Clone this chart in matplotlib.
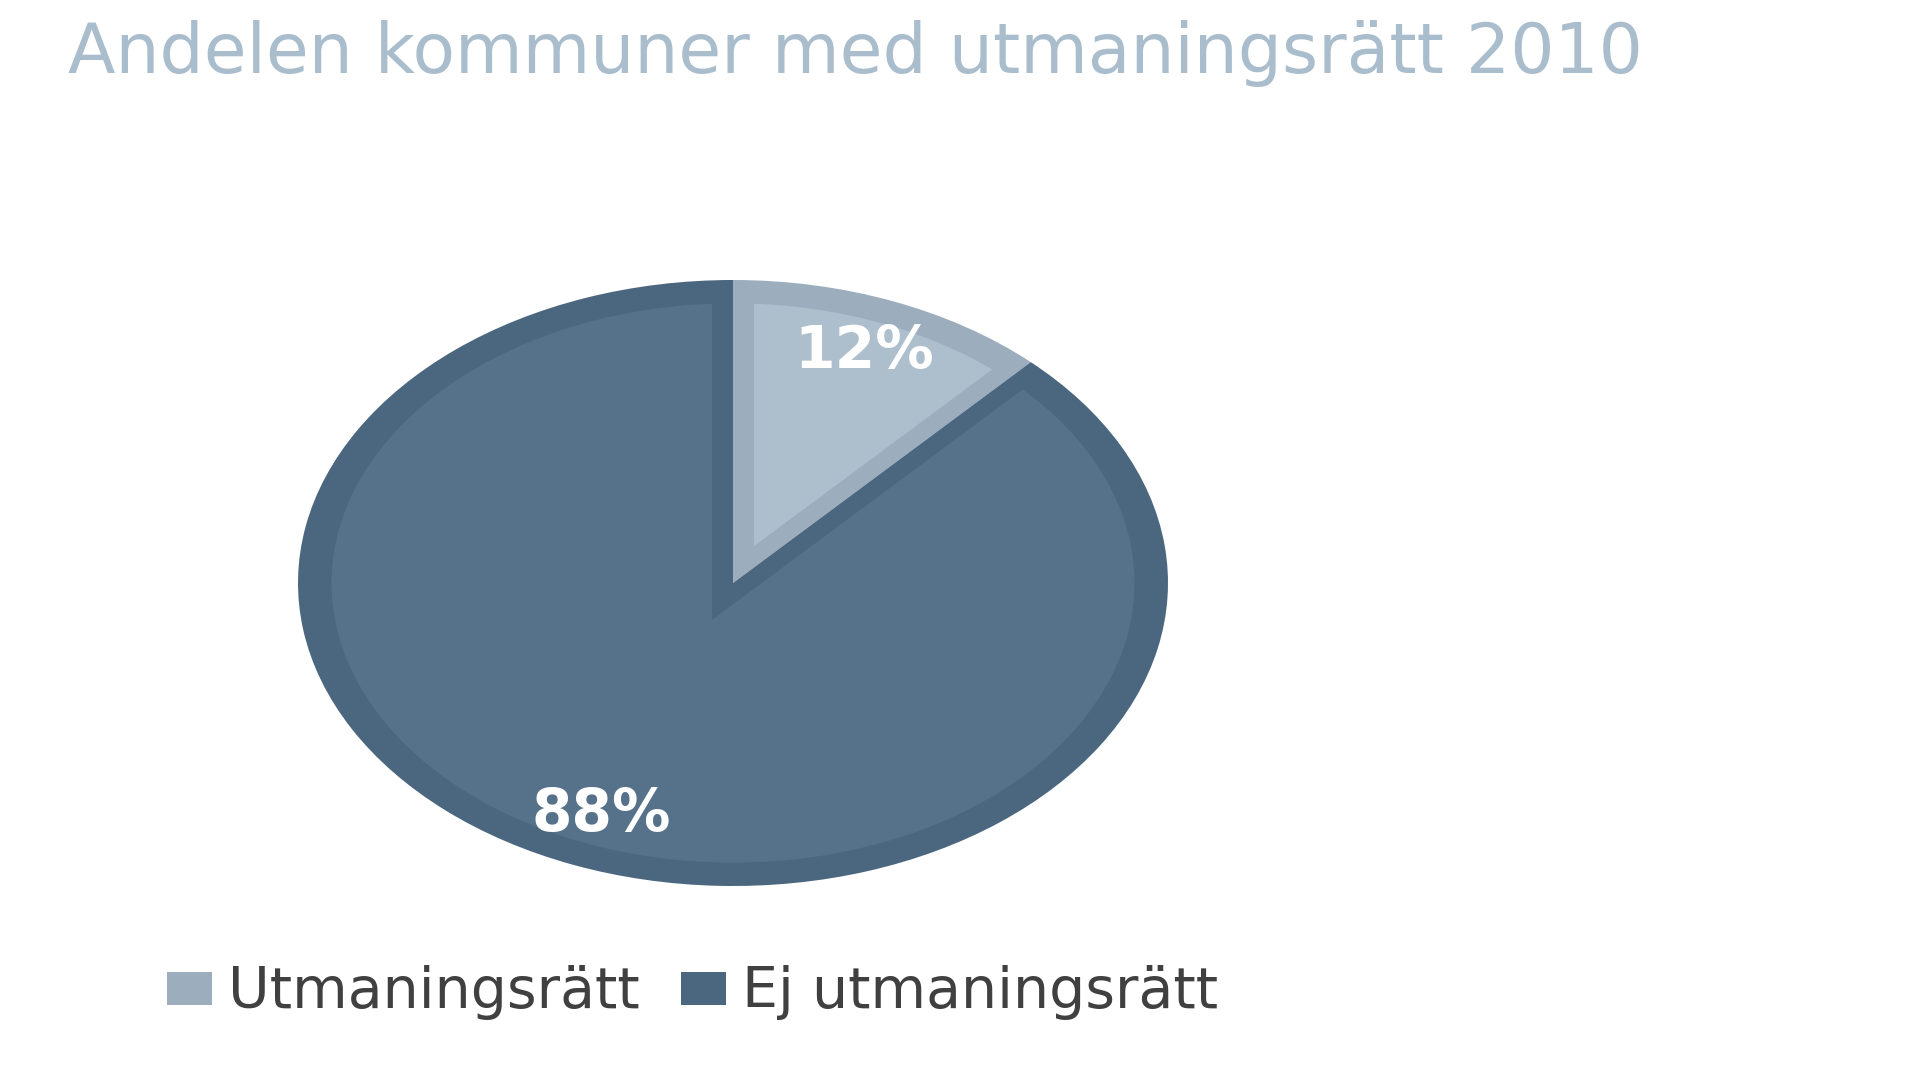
import numpy as np
import matplotlib
matplotlib.use("Agg")
import matplotlib.pyplot as plt
import matplotlib.patches as mpatches

plt.rcParams['font.family'] = ['DejaVu Sans']

# ---- data ----
title = "Andelen kommuner med utmaningsrätt 2010"
categories = ["Utmaningsrätt", "Ej utmaningsrätt"]
values = [12, 88]

# ---- styles ----
border_colors = ["#9cadbd", "#4b6780"]
fill_colors = ["#adbecd", "#56728b"]
title_color = "#a9bdcd"
legend_text_color = "#404040"
border_frac = 0.077   # inner border thickness, in pie-radius units

W, H = 1920, 1079
fig = plt.figure(figsize=(W / 100, H / 100), dpi=100)
fig.patch.set_facecolor("white")

# pie axes (elliptical pie as in the reference)
ax = fig.add_axes([298 / W, 193 / H, 870 / W, 606 / H])

wedges, _, autotexts = ax.pie(
    values, colors=border_colors, startangle=90, counterclock=False,
    radius=1.0, autopct='%.0f%%', pctdistance=0.82,
    wedgeprops=dict(linewidth=0, antialiased=True),
    textprops=dict(color="white", fontsize=42, fontweight="bold"),
)

# inner fill: each wedge offset inward by border_frac (miter-like), clipped to smaller circle
fracs = np.array(values, dtype=float) / np.sum(values)
R2 = 1.6
explode = [border_frac / np.sin(np.pi * f) / R2 for f in fracs]
inner, _ = ax.pie(
    values, colors=fill_colors, startangle=90, counterclock=False,
    radius=R2, explode=explode,
    wedgeprops=dict(linewidth=0, antialiased=True),
)
clip = mpatches.Circle((0, 0), 1.0 - border_frac, transform=ax.transData)
for w in inner:
    w.set_clip_on(True)
    w.set_clip_path(clip)
for t in autotexts:
    t.set_zorder(10)

ax.set_aspect('auto')
ax.set_xlim(-1, 1)
ax.set_ylim(-1, 1)
ax.axis('off')

# title
fig.text(68 / W, 1 - 73 / H, title, color=title_color, fontsize=50,
         ha='left', va='baseline')

# legend
leg = fig.legend(
    wedges, categories, loc='center left',
    bbox_to_anchor=(167 / W, 1 - 993 / H), ncol=2, frameon=False,
    fontsize=41, handlelength=0.79, handleheight=0.53,
    handletextpad=0.28, columnspacing=0.72, borderpad=0, borderaxespad=0,
)
for t in leg.get_texts():
    t.set_color(legend_text_color)

fig.savefig("out.png", dpi=100, facecolor="white")
